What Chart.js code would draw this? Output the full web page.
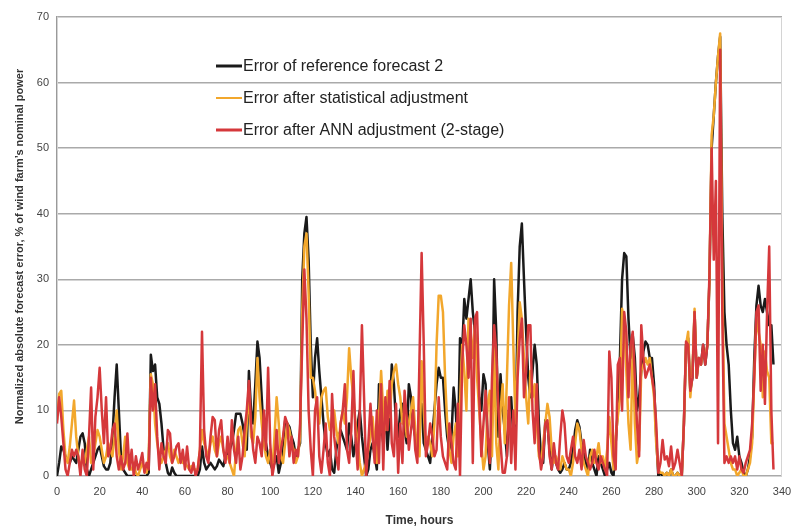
<!DOCTYPE html>
<html>
<head>
<meta charset="utf-8">
<script src="https://cdn.jsdelivr.net/npm/chart.js@4.4.1/dist/chart.umd.min.js"></script>
<style>
  html, body { margin: 0; padding: 0; background: #fff; }
</style>
</head>
<body>
<canvas id="errChart" width="793" height="530"></canvas>
<script>
// hourly absolute forecast error, % of nominal power (hours 0..336)
var refForecastErr = [
  0,2,4.5,4,3,2.5,2,3,2.5,2, 4,6,6.5,5,1,0,1,2,3,4, 4.5,3,1.5,1,1,2,6,12,17,10,
  3,1,0.5,0,0,0,0,0,0,0, 0,0,0,0.5,18.5,16,17,12,11,8, 4,2,0.5,0,1.3,0.5,0,0,0,0,
  0,0,0,0,0,0,0,1,4.5,2, 1,1.5,2,1.5,1,1.5,2.5,2,1.5,3, 3.5,4,5,7,9.5,9.5,9.5,8,6,4,
  16,10,8,14,20.5,18,12,6,5,3, 2,1,2,3,0.5,2,5,8.5,8,7.5, 6,5,3,4,5,30,37,39.5,33,20,
  12,18,21,16,12,8,5,3,4,1, 0.5,4,6,7,6,5,4,8,6,3, 5,8,10,6,3,0,1,4,5,3,
  1,14,8,5,10,4,9,17,14,8, 6,10,11,7,5,14,12,8,6,4, 9,11,5,4,3,2,6,10,14,16.5,
  15,15,10,6,4,6,13.5,10,4,21, 19,27,24,27,30,25,22,18,12,10, 15.5,14,5,1,8,30,22,6,15.5,10,
  7,3,10,12,6,5,25,35,38.5,30, 22,15,12,16,20,17,8,3,2,8.5, 8,4,1,4,2,1,0.5,1,2,1,
  1,2,4,7,8.5,7.5,5,4,2,1, 4,2,1,0,3,2,1,0,1,2, 0.5,0,5,10,18,30,34,33.5,24,18,
  21.5,18,10,12,16,19,20.5,20,18,18, 14,6,0,0.5,0,0,0.5,0,1,0, 0,0.5,0,0,8,20,21,13,15,25,
  15,18,17,20,17,20,30,50,55,60, 64,67,40,25,20,17,10,5,4,6, 3,2,0.5,0,1,3,6,18,26,29,
  26,25,27,25,23,23,17
];
var statAdjErr = [
  8.5,12.5,13,7,3,2,4.5,8,11.5,6, 3,1,3,2,4,6,2,3,5,7, 6,4,2,3,5,4,3,6,10,4,
  1,3,6,2,1,1,2,0.5,0,1, 2,1,0.5,3,15.5,14,8,5,3,2, 3,4,5,3,2,4,3,2,3,2,
  2,1.5,1,1.5,1,1,1,4,7,5, 4,3,5,6,4,3,5,6,4,2.5, 3,2,1,0,4,7,7.5,5,3,8,
  13,6,5,9,18,12,8,5,3,2, 4,1,6,12,8,3,2,5,8,7, 5,4,2,3,6,25,35,37,28,15,
  15,13,10,8,12,13,13.5,9,7,8, 10,7,5,8,10,8,12,19.5,15,12, 8,5,2,0,1,2,4,6,9,5,
  2,9,16,10,7,13,9,14,16,17, 14,12,8,10,6,8,10,12,7,4, 3,17.5,10,4,6,5,3,8,20,27.5,
  27.5,25,15,8,4,2,6,8,3,11, 20,16,10,24,22,18,23,15,10,5, 1,3,11,13,3,20,5,1,10,14,
  5,15,26,32.5,20,8,18,26.5,24,18, 12,8,16,12,14,8,3,2,5,8, 11,9,4,2,3,2,1,3,2,1,
  1,0,2,5,8,7,4,2,1,0, 3,4,2,3,5,2,3,1,4,9, 5,1,6,9,12,25.5,24,16,8,4,
  20,8,2,4,16,17,18,17,18,15, 12,5,1,0.5,0.5,0,0.5,0,1,0, 0,0.5,0,0,8,20,22,12,16,25.5,
  15,18,17,19,18,20,30,52,55,60, 64,67.5,30,8,6,4,2,1,1,0, 0.5,1,0,0,1,2,5,15,24,22,
  20,12,19,16,15,5,5
];
var annAdjErr = [
  8,12,9,5,1,0,2,4,3,4, 3,0,4,1,0,6,13.5,1,9,12, 16.5,10,5,12,3,4,7,8,3,1,
  3,1,2,6.5,1,4,0,3,1,2, 3.5,0.5,2,1,15,10,14,6,1,5, 3,2,7,6.5,2,3,4.5,5,2,4,
  1,4.5,1,0.5,2,0,1,4,22,7, 3,2,6,9,8.5,3,7,8.5,4,2, 6,2,8.5,4,2,6,1,3,7,10,
  14.5,8,4,2,6,5,3,10,4,16.5, 5,0,2,7,2,4,6,9,8,3, 6,2,4,3,8,20,31.5,24,10,4,
  0,10,12,3,0.5,4,8,2,0,12.5, 6,3,1,8,10,14,4,2,7,16, 6,1,10,23,12,0,5,11,6,2,
  10,2,14,1,12,7,14.5,5,3,11, 0.5,8,2,13,9,4,7,10,4,2, 18,34,20,3,5,8,6,3,4,12,
  6,3,2,1,8,5,2,1,11,0, 17,23,20,15,24,2,24,25,12,3, 8,13,6,2,15,23,19,10,5,0.5,
  0.5,3,12,2,10,1,15,21,24,12, 16,23,23,10,5,14,4,1,3,8, 8.5,3,1,5,2,1,6,10,8,3,
  2,4,6,3,2,4,1,5.5,3,2, 1,2,4,2,1,3,2,1,0,19, 15,3,1,17,18,10,25,22,12,20,
  22,15,8,3,23,18,15,16,17,15, 13,8,0.5,2,5.5,2.5,3,1.5,4.5,1, 2,4,2,0,8,20.5,20,13,15,25,
  15,18,17,20,17,20,31,50,33,45, 5,65,25,2,3,2,3,2,3,1, 3,1,0.5,2,3,4,8,15,25,26,
  13,20,11,25,35,10,1
];

var seriesNames = [
  'Error of reference forecast 2',
  'Error after statistical adjustment',
  'Error after ANN adjustment (2-stage)'
];
var seriesColors = ['#1a1a1a', '#f2a72c', '#d5383b'];

function toPoints(arr) {
  return arr.map(function (v, i) { return { x: i, y: v }; });
}

// plot frame: thin light border round the plotting area
var frame = {
  id: 'frame',
  beforeDatasetsDraw: function (chart) {
    var a = chart.chartArea, c = chart.ctx;
    c.save();
    c.strokeStyle = '#d4d4d4';
    c.lineWidth = 1;
    c.strokeRect(a.left + 0.5, a.top + 0.5, a.right - a.left - 1, a.bottom - a.top);
    c.restore();
  }
};

// legend drawn inside the plot, upper left
var insideLegend = {
  id: 'insideLegend',
  afterDraw: function (chart) {
    var c = chart.ctx;
    var widths = [3, 2, 3];
    c.save();
    c.font = '16px "Liberation Sans", Arial, sans-serif';
    c.textBaseline = 'middle';
    for (var i = 0; i < seriesNames.length; i++) {
      var y = 66 + i * 32;
      c.strokeStyle = seriesColors[i];
      c.lineWidth = widths[i];
      c.beginPath();
      c.moveTo(216, y);
      c.lineTo(242, y);
      c.stroke();
      c.fillStyle = '#222';
      c.fillText(seriesNames[i], 243, y + 1);
    }
    c.restore();
  }
};

var ctx = document.getElementById('errChart').getContext('2d');
var myChart = new Chart(ctx, {
  type: 'line',
  data: {
    datasets: [
      { label: seriesNames[0], data: toPoints(refForecastErr), borderColor: seriesColors[0], order: 2 },
      { label: seriesNames[1], data: toPoints(statAdjErr), borderColor: seriesColors[1], order: 1 },
      { label: seriesNames[2], data: toPoints(annAdjErr), borderColor: seriesColors[2], order: 0 }
    ]
  },
  options: {
    responsive: false,
    animation: false,
    elements: {
      line: { borderWidth: 2.5, tension: 0, borderJoinStyle: 'round' },
      point: { radius: 0 }
    },
    layout: { padding: { top: 17, right: 0, left: 0, bottom: 0 } },
    plugins: {
      legend: { display: false },
      tooltip: { enabled: false }
    },
    scales: {
      x: {
        type: 'linear',
        min: 0,
        max: 340,
        ticks: {
          stepSize: 20,
          padding: 9,
          color: '#444',
          font: { family: '"Liberation Sans", Arial, sans-serif', size: 11 }
        },
        grid: { display: false, drawTicks: false },
        border: { display: false },
        title: {
          display: true,
          text: 'Time, hours',
          color: '#333',
          padding: { top: 4, bottom: 2 },
          font: { family: '"Liberation Sans", Arial, sans-serif', size: 12, weight: 'bold' }
        },
        afterFit: function (scale) {
          scale.height = 54;
          scale.paddingRight = 11;
        }
      },
      y: {
        min: 0,
        max: 70,
        ticks: {
          stepSize: 10,
          padding: 8,
          color: '#444',
          font: { family: '"Liberation Sans", Arial, sans-serif', size: 11 }
        },
        grid: { color: '#aaaaaa', lineWidth: 1.5, drawTicks: false },
        border: { color: '#9a9a9a', width: 1.5 },
        title: {
          display: true,
          text: 'Normalized absolute forecast error, % of wind farm\u2019s nominal power',
          color: '#333',
          padding: { top: 13, bottom: 0 },
          font: { family: '"Liberation Sans", Arial, sans-serif', size: 11, weight: 'bold' }
        },
        afterFit: function (scale) { scale.width = 57; }
      }
    }
  },
  plugins: [frame, insideLegend]
});
</script>
</body>
</html>
